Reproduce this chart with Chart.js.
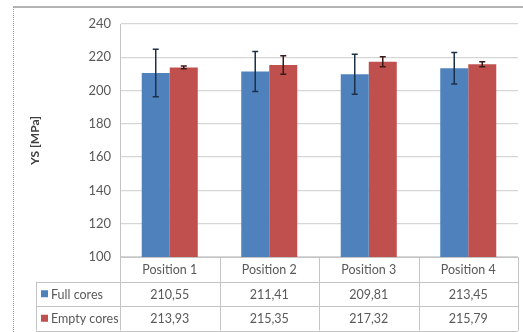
<!DOCTYPE html>
<html>
<head>
<meta charset="utf-8">
<script src="https://cdn.jsdelivr.net/npm/chart.js@4.4.1/dist/chart.umd.min.js"></script>
<style>
  html, body { margin: 0; padding: 0; background: #fff; }
  #wrap { width: 523px; height: 332px; position: relative; }
</style>
</head>
<body>
<div id="wrap"><canvas id="myChart" width="523" height="332"></canvas></div>
<script>
// data
const positions = ['Position 1', 'Position 2', 'Position 3', 'Position 4'];
const seriesNames = ['Full cores', 'Empty cores'];
const fullCores = [210.55, 211.41, 209.81, 213.45];
const emptyCores = [213.93, 215.35, 217.32, 215.79];
const fullErr = [14.3, 12, 12, 9.5];
const emptyErr = [0.8, 5.5, 3, 1.5];
const tableFull = ['210,55', '211,41', '209,81', '213,45'];
const tableEmpty = ['213,93', '215,35', '217,32', '215,79'];
const yTicks = { min: 100, max: 240, step: 20 };

const blue = '#4f81bd';
const red = '#c0504d';
const lineCol = '#c4c4c4';
const textCol = '#595959';
const fontFam = 'Lato, "Liberation Sans", sans-serif';

// cadre + barres d'erreur + tableau de données
const extras = {
  id: 'extras',
  beforeDraw(chart) {
    const ctx = chart.ctx;
    ctx.save();
    ctx.strokeStyle = '#b4b4b4';
    ctx.lineWidth = 2;
    ctx.beginPath();
    ctx.moveTo(13, 7);
    ctx.lineTo(523, 7);
    ctx.stroke();
    ctx.strokeStyle = '#9a9a9a';
    ctx.lineWidth = 1;
    ctx.setLineDash([1, 1]);
    ctx.beginPath();
    ctx.moveTo(13.5, 7);
    ctx.lineTo(13.5, 332);
    ctx.stroke();
    ctx.restore();
  },
  afterDatasetsDraw(chart) {
    const ctx = chart.ctx;
    const y = chart.scales.y;
    const errs = [fullErr, emptyErr];
    const vals = [fullCores, emptyCores];
    ctx.save();
    ctx.lineWidth = 1.5;
    errs.forEach((err, i) => {
      const meta = chart.getDatasetMeta(i);
      meta.data.forEach((bar, j) => {
        const top = y.getPixelForValue(vals[i][j] + err[j]);
        const bot = y.getPixelForValue(vals[i][j] - err[j]);
        ctx.strokeStyle = i === 0 ? '#1d3049' : '#3a1a18';
        ctx.beginPath();
        ctx.moveTo(bar.x, top);
        ctx.lineTo(bar.x, bot);
        ctx.moveTo(bar.x - 3, top);
        ctx.lineTo(bar.x + 3, top);
        ctx.moveTo(bar.x - 3, bot);
        ctx.lineTo(bar.x + 3, bot);
        ctx.stroke();
      });
    });
    ctx.restore();
  },
  afterDraw(chart) {
    const ctx = chart.ctx;
    const x = chart.scales.x;
    const area = chart.chartArea;
    const colW = x.width / positions.length;
    const rowH = 24.5;
    const legendLeft = 36;
    const r0 = area.bottom;
    const r1 = r0 + rowH;
    const r2 = r1 + rowH;
    const r3 = r2 + rowH;

    ctx.save();
    ctx.strokeStyle = lineCol;
    ctx.lineWidth = 1;
    ctx.beginPath();
    // lignes horizontales
    ctx.moveTo(area.left, r0 + 0.5);
    ctx.lineTo(area.right, r0 + 0.5);
    [r1, r2, r3].forEach((r) => {
      ctx.moveTo(legendLeft, Math.round(r) + 0.5);
      ctx.lineTo(area.right, Math.round(r) + 0.5);
    });
    // lignes verticales (seulement dans le tableau)
    ctx.moveTo(legendLeft + 0.5, r1);
    ctx.lineTo(legendLeft + 0.5, r3);
    for (let j = 0; j <= positions.length; j++) {
      const cx = Math.round(area.left + j * colW) + 0.5;
      ctx.moveTo(cx, j === 0 ? area.top : r0);
      ctx.lineTo(cx, r3);
    }
    ctx.stroke();

    ctx.fillStyle = textCol;
    ctx.font = '12.5px ' + fontFam;
    ctx.textAlign = 'center';
    ctx.textBaseline = 'middle';
    positions.forEach((p, j) => {
      const cx = x.getPixelForValue(j);
      ctx.fillText(p, cx, (r0 + r1) / 2 + 1);
      ctx.fillText(tableFull[j], cx, (r1 + r2) / 2 + 1);
      ctx.fillText(tableEmpty[j], cx, (r2 + r3) / 2 + 1);
    });

    // légende dans le tableau
    ctx.textAlign = 'left';
    [blue, red].forEach((c, i) => {
      const ry = i === 0 ? (r1 + r2) / 2 : (r2 + r3) / 2;
      ctx.fillStyle = c;
      ctx.fillRect(legendLeft + 5, ry - 3.5, 7, 7);
      ctx.fillStyle = textCol;
      ctx.fillText(seriesNames[i], legendLeft + 15, ry + 1);
    });
    ctx.restore();
  },
};

const data = {
  labels: positions,
  datasets: [
    {
      label: seriesNames[0],
      data: fullCores,
      backgroundColor: blue,
      borderWidth: 0,
    },
    {
      label: seriesNames[1],
      data: emptyCores,
      backgroundColor: red,
      borderWidth: 0,
    },
  ],
};

const options = {
  responsive: false,
  animation: false,
  devicePixelRatio: 1,
  layout: { padding: { left: 0, right: 5, top: 24, bottom: 75 } },
  datasets: { bar: { categoryPercentage: 0.563, barPercentage: 1 } },
  plugins: { legend: { display: false }, tooltip: { enabled: false } },
  scales: {
    x: { display: false },
    y: {
      min: yTicks.min,
      max: yTicks.max,
      afterFit: (scale) => {
        scale.width = 120;
      },
      ticks: {
        stepSize: yTicks.step,
        padding: 9,
        color: textCol,
        font: { family: fontFam, size: 13 },
      },
      grid: { color: '#d6d6d6', lineWidth: 1.3, drawTicks: false },
      border: { display: true, color: lineCol },
      title: {
        display: true,
        text: 'YS [MPa]',
        color: '#404040',
        font: { family: fontFam, size: 12, weight: 'bold' },
        padding: { top: 28, bottom: 0 },
      },
    },
  },
};

const config = { type: 'bar', data, options, plugins: [extras] };
const myChart = new Chart(document.getElementById('myChart'), config);
</script>
</body>
</html>
